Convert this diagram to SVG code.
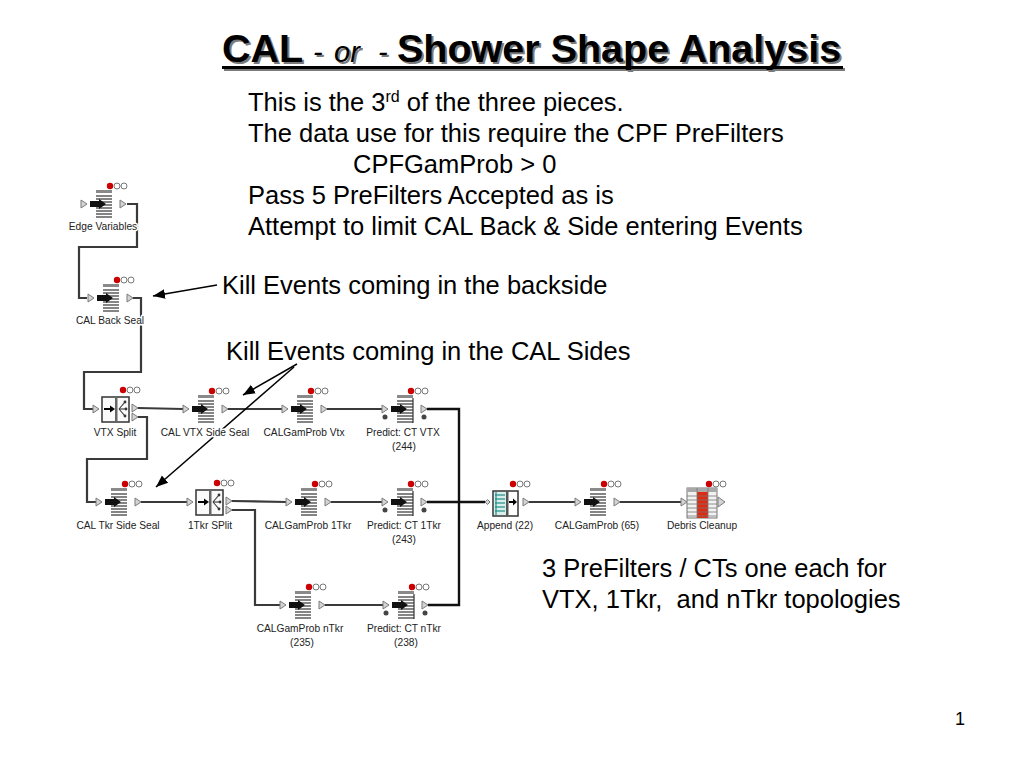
<svg xmlns="http://www.w3.org/2000/svg" xmlns:xlink="http://www.w3.org/1999/xlink" width="1024" height="768" viewBox="0 0 1024 768">
<style>
  .txt{font-family:"Liberation Sans",Arial,sans-serif;fill:#000}
  .body{font-size:25.5px}
  .lbl{font-family:"Liberation Sans",Arial,sans-serif;font-size:10.2px;fill:#222;text-anchor:middle;stroke:#fff;stroke-width:3;paint-order:stroke;stroke-linejoin:round}
  .wire{fill:none;stroke:#3a3a3a;stroke-width:2.2}
  .bus{fill:none;stroke:#111;stroke-width:2.4}
  .ann{fill:none;stroke:#000;stroke-width:1.5}
  .port{fill:#d4d4d4;stroke:#7a7a7a;stroke-width:1}
  .ln{stroke:#333;stroke-width:1.2}
</style>
<defs>
  <marker id="ah" viewBox="0 0 10 10" refX="10" refY="5" markerWidth="12" markerHeight="12" markerUnits="userSpaceOnUse" orient="auto">
    <path d="M0,1 L10,5 L0,9 z" fill="#000"/>
  </marker>
  <g id="dots">
    <circle cx="7" cy="-18" r="3.2" fill="#cc0000"/>
    <circle cx="14" cy="-18" r="3" fill="#fff" stroke="#555" stroke-width="0.8"/>
    <circle cx="21" cy="-18" r="3" fill="#fff" stroke="#555" stroke-width="0.8"/>
  </g>
  <g id="bars">
    <rect x="-7" y="-14" width="16" height="3" fill="#8a8a8a"/>
    <g class="ln">
      <line x1="-7" y1="-8" x2="9" y2="-8"/>
      <line x1="-7" y1="-5" x2="9" y2="-5"/>
      <line x1="-7" y1="-2" x2="9" y2="-2"/>
      <line x1="-7" y1="1" x2="9" y2="1"/>
      <line x1="-7" y1="4" x2="9" y2="4"/>
      <line x1="-7" y1="7" x2="9" y2="7"/>
      <line x1="-7" y1="10" x2="9" y2="10"/>
      <line x1="-7" y1="13" x2="9" y2="13"/>
    </g>
    <polygon points="-13,-3 -4,-3 -4,-5 3,0 -4,5 -4,3 -13,3" fill="#111"/>
  </g>
  <g id="icoFilter">
    <use xlink:href="#dots"/>
    <use xlink:href="#bars"/>
    <polygon class="port" points="-22,-4 -16,0 -22,4"/>
    <polygon class="port" points="17,-4 23,0 17,4"/>
  </g>
  <g id="icoPredict">
    <use xlink:href="#dots"/>
    <use xlink:href="#bars"/>
    <line x1="9" y1="-11" x2="9" y2="14" class="ln"/>
    <polygon class="port" points="-22,-4 -16,0 -22,4"/>
    <polygon class="port" points="17,-4 23,0 17,4"/>
    <circle cx="-19" cy="8" r="2.5" fill="#444"/>
    <circle cx="20" cy="8" r="2.5" fill="#444"/>
  </g>
  <g id="icoSplit">
    <circle cx="8" cy="-19" r="3.2" fill="#cc0000"/>
    <circle cx="15" cy="-19" r="3" fill="#fff" stroke="#555" stroke-width="0.8"/>
    <circle cx="22" cy="-19" r="3" fill="#fff" stroke="#555" stroke-width="0.8"/>
    <rect x="-13" y="-12" width="27" height="25" fill="#fafafa" stroke="#333" stroke-width="1.5"/>
    <rect x="0" y="-12" width="2.5" height="25" fill="#666"/>
    <line x1="-11" y1="0" x2="-4" y2="0" stroke="#000" stroke-width="2"/>
    <polygon points="-5,-3.5 0,0 -5,3.5" fill="#000"/>
    <g stroke="#333" stroke-width="1.1" fill="none">
      <line x1="4" y1="0" x2="10" y2="-7"/>
      <line x1="4" y1="0" x2="11" y2="0"/>
      <line x1="4" y1="0" x2="10" y2="7"/>
    </g>
    <circle cx="10" cy="-7" r="1.4" fill="#333"/>
    <circle cx="11" cy="0" r="1.4" fill="#333"/>
    <circle cx="10" cy="7" r="1.4" fill="#333"/>
    <polygon class="port" points="-22,-4 -16,0 -22,4"/>
    <polygon class="port" points="17,-5 23,-1 17,3"/>
    <polygon class="port" points="17,4 23,8 17,12"/>
  </g>
  <g id="icoAppend">
    <circle cx="8" cy="-18" r="3.2" fill="#cc0000"/>
    <circle cx="15" cy="-18" r="3" fill="#fff" stroke="#555" stroke-width="0.8"/>
    <circle cx="22" cy="-18" r="3" fill="#fff" stroke="#555" stroke-width="0.8"/>
    <rect x="-12" y="-11" width="25" height="25" fill="#fff" stroke="#333" stroke-width="1.5"/>
    <rect x="-11" y="-10" width="12" height="23" fill="#d8efec"/>
    <g stroke="#1f8c88" stroke-width="1.2">
      <line x1="-9" y1="-10" x2="-9" y2="13"/>
      <line x1="-10" y1="-7" x2="0" y2="-7"/>
      <line x1="-10" y1="-3" x2="0" y2="-3"/>
      <line x1="-10" y1="1" x2="0" y2="1"/>
      <line x1="-10" y1="5" x2="0" y2="5"/>
      <line x1="-10" y1="9" x2="0" y2="9"/>
    </g>
    <rect x="1" y="-11" width="2.5" height="25" fill="#555"/>
    <line x1="4" y1="0" x2="9" y2="0" stroke="#000" stroke-width="2"/>
    <polygon points="8,-3.5 12,0 8,3.5" fill="#000"/>
    <polygon points="-20,0 -17.5,-2.5 -15,0 -17.5,2.5" fill="#d4d4d4" stroke="#7a7a7a" stroke-width="1"/>
    <polygon class="port" points="18,-4 24,0 18,4"/>
  </g>
  <g id="icoTable">
    <use xlink:href="#dots"/>
    <rect x="-15" y="-14" width="30" height="30" fill="#f2f2f2" stroke="#777" stroke-width="1"/>
    <rect x="-15" y="-14" width="30" height="4" fill="#a8a8a8"/>
    <rect x="-5" y="-10" width="11" height="26" fill="#dd2a12"/>
    <g stroke="#777" stroke-width="0.8">
      <line x1="-15" y1="-6" x2="15" y2="-6"/>
      <line x1="-15" y1="-2" x2="15" y2="-2"/>
      <line x1="-15" y1="2" x2="15" y2="2"/>
      <line x1="-15" y1="6" x2="15" y2="6"/>
      <line x1="-15" y1="10" x2="15" y2="10"/>
      <line x1="-15" y1="14" x2="15" y2="14"/>
      <line x1="-5" y1="-14" x2="-5" y2="16"/>
      <line x1="6" y1="-14" x2="6" y2="16"/>
    </g>
    <polygon class="port" points="-21,-4 -15,0 -21,4"/>
    <polygon class="port" points="16,-5 23,0 16,5"/>
  </g>
</defs>

<rect width="1024" height="768" fill="#fff"/>

<!-- Title -->
<g id="title">
  <g fill="#7a7a7a" transform="translate(2,2)">
    <text class="txt" y="62" style="fill:#7a7a7a"><tspan x="222" font-size="39.5" font-weight="bold">CAL</tspan><tspan x="313" font-size="29" font-style="italic">-</tspan><tspan x="334" font-size="29" font-style="italic">or</tspan><tspan x="378" font-size="29" font-style="italic">-</tspan><tspan x="397" font-size="39.5" font-weight="bold">Shower Shape Analysis</tspan></text>
    <rect x="222" y="66" width="621" height="3"/>
  </g>
  <text class="txt" y="62"><tspan x="222" font-size="39.5" font-weight="bold">CAL</tspan><tspan x="313" font-size="29" font-style="italic">-</tspan><tspan x="334" font-size="29" font-style="italic">or</tspan><tspan x="378" font-size="29" font-style="italic">-</tspan><tspan x="397" font-size="39.5" font-weight="bold">Shower Shape Analysis</tspan></text>
  <rect x="222" y="66" width="621" height="3" fill="#000"/>
</g>

<!-- Body text -->
<g id="notes">
  <text class="txt body" x="248" y="111">This is the 3<tspan font-size="16" dy="-9">rd</tspan><tspan dy="9"> of the three pieces.</tspan></text>
  <text class="txt body" x="248" y="142">The data use for this require the CPF PreFilters</text>
  <text class="txt body" x="353" y="173">CPFGamProb &gt; 0</text>
  <text class="txt body" x="248" y="204">Pass 5 PreFilters Accepted as is</text>
  <text class="txt body" x="248" y="235">Attempt to limit CAL Back &amp; Side entering Events</text>
  <text class="txt body" x="222" y="294">Kill Events coming in the backside</text>
  <text class="txt body" x="226" y="360">Kill Events coming in the CAL Sides</text>
  <text class="txt body" x="542" y="577">3 PreFilters / CTs one each for</text>
  <text class="txt body" x="542" y="608" xml:space="preserve">VTX, 1Tkr,  and nTkr topologies</text>
  <text class="txt" x="955" y="725" font-size="18">1</text>
</g>

<!-- Connectors -->
<g id="connectors">
  <polyline class="wire" points="127,204 137,204 137,247 79,247 79,298 87,298"/>
  <polyline class="wire" points="133,298 141,298 141,372 84,372 84,409 93,409"/>
  <polyline class="wire" points="138,408 183,409"/>
  <polyline class="wire" points="138,417 147,417 147,459 87,459 87,502 96,502"/>
  <line class="wire" x1="228" y1="409" x2="282" y2="409"/>
  <line class="wire" x1="327" y1="409" x2="382" y2="409"/>
  <polyline class="bus" points="427,409 459,409 459,605 428,605"/>
  <line class="wire" x1="141" y1="502" x2="187" y2="502"/>
  <polyline class="wire" points="232,501 286,502"/>
  <polyline class="wire" points="232,510 255,510 255,605 280,605"/>
  <line class="wire" x1="331" y1="502" x2="382" y2="502"/>
  <line class="bus" x1="427" y1="502" x2="485" y2="502"/>
  <line class="wire" x1="325" y1="605" x2="383" y2="605"/>
  <line class="wire" x1="529" y1="502" x2="575" y2="502"/>
  <line class="wire" x1="620" y1="502" x2="681" y2="502"/>
  <line class="ann" x1="217" y1="285" x2="153" y2="296" marker-end="url(#ah)"/>
  <line class="ann" x1="297" y1="364" x2="243" y2="395" marker-end="url(#ah)"/>
  <line class="ann" x1="294" y1="367" x2="156" y2="487" marker-end="url(#ah)"/>
</g>

<!-- Nodes -->
<g id="n-edge-variables"><use xlink:href="#icoFilter" x="103" y="204"/><text class="lbl" x="103" y="230">Edge Variables</text></g>
<g id="n-cal-back-seal"><use xlink:href="#icoFilter" x="110" y="298"/><text class="lbl" x="110" y="324">CAL Back Seal</text></g>
<g id="n-vtx-split"><use xlink:href="#icoSplit" x="115" y="409"/><text class="lbl" x="115" y="436">VTX Split</text></g>
<g id="n-cal-vtx-side-seal"><use xlink:href="#icoFilter" x="205" y="409"/><text class="lbl" x="205" y="436">CAL VTX Side Seal</text></g>
<g id="n-calgamprob-vtx"><use xlink:href="#icoFilter" x="304" y="409"/><text class="lbl" x="304" y="436">CALGamProb Vtx</text></g>
<g id="n-predict-ct-vtx"><use xlink:href="#icoPredict" x="404" y="409"/><text class="lbl" x="403" y="436">Predict: CT VTX</text><text class="lbl" x="404" y="450">(244)</text></g>
<g id="n-cal-tkr-side-seal"><use xlink:href="#icoFilter" x="118" y="502"/><text class="lbl" x="118" y="529">CAL Tkr Side Seal</text></g>
<g id="n-1tkr-split"><use xlink:href="#icoSplit" x="209" y="502"/><text class="lbl" x="210" y="529">1Tkr SPlit</text></g>
<g id="n-calgamprob-1tkr"><use xlink:href="#icoFilter" x="308" y="502"/><text class="lbl" x="308" y="529">CALGamProb 1Tkr</text></g>
<g id="n-predict-ct-1tkr"><use xlink:href="#icoPredict" x="404" y="502"/><text class="lbl" x="404" y="529">Predict: CT 1Tkr</text><text class="lbl" x="404" y="543">(243)</text></g>
<g id="n-append-22"><use xlink:href="#icoAppend" x="505" y="502"/><text class="lbl" x="505" y="529">Append (22)</text></g>
<g id="n-calgamprob-65"><use xlink:href="#icoFilter" x="597" y="502"/><text class="lbl" x="597" y="529">CALGamProb (65)</text></g>
<g id="n-debris-cleanup"><use xlink:href="#icoTable" x="702" y="502"/><text class="lbl" x="702" y="529">Debris Cleanup</text></g>
<g id="n-calgamprob-ntkr"><use xlink:href="#icoFilter" x="302" y="605"/><text class="lbl" x="300" y="632">CALGamProb nTkr</text><text class="lbl" x="302" y="646">(235)</text></g>
<g id="n-predict-ct-ntkr"><use xlink:href="#icoPredict" x="405" y="605"/><text class="lbl" x="404" y="632">Predict: CT nTkr</text><text class="lbl" x="406" y="646">(238)</text></g>
</svg>
